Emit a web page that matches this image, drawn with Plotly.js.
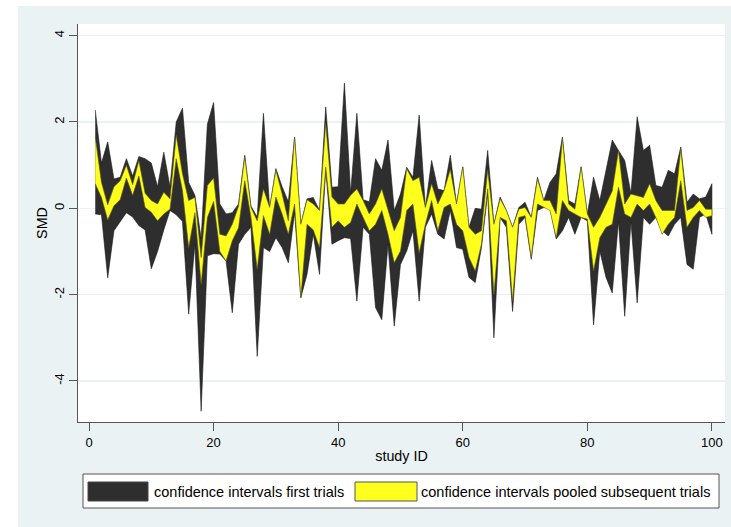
<!DOCTYPE html>
<html>
<head>
<meta charset="utf-8">
<script src="https://cdn.plot.ly/plotly-3.0.1.min.js"></script>
<style>html,body{margin:0;padding:0;background:#fff;}#chart{width:731px;height:527px;}</style>
</head>
<body>
<div id="chart"></div>
<script>
// study IDs
var studyIds = [];
for (var i = 1; i <= 100; i++) studyIds.push(i);

// confidence intervals of first trials (SMD)
var firstUpper = [2.28,1.05,1.54,0.68,0.72,1.15,0.75,1.2,1.15,1.05,
  0.5,1.3,0.5,2.0,2.32,0.6,0.3,-0.7,1.95,2.45,
  0.1,-0.13,-0.1,0.1,1.23,0.05,-0.2,2.2,0.0,0.92,
  0.5,0.15,1.65,-0.37,0.22,0.25,-0.05,2.35,0.49,0.5,
  2.9,0.35,2.2,0.2,0.15,1.15,0.88,1.58,-0.05,0.33,
  0.95,0.72,2.16,0.02,1.11,0.45,0.41,1.23,0.1,0.96,
  -0.44,0.0,-0.02,1.34,-0.37,0.26,-0.05,-0.44,0.02,0.14,
  -0.21,0.72,0.18,0.6,0.8,1.65,0.18,0.1,0.96,-0.13,
  0.72,0.18,0.88,1.58,1.34,1.11,0.35,2.12,1.34,1.46,
  0.53,0.49,0.88,0.8,1.42,0.14,0.33,0.22,0.26,0.57];
var firstLower = [-0.13,-0.15,-1.61,-0.52,-0.3,-0.1,-0.2,-0.4,-0.5,-1.4,
  -1.0,-0.5,-0.05,-0.15,-0.3,-2.45,-0.83,-4.7,-1.1,-1.05,
  -1.06,-1.22,-2.42,-0.83,-0.6,-0.44,-3.43,-0.91,-1.0,-0.68,
  -0.91,-1.26,-0.1,-2.07,-1.53,-0.6,-1.53,0.9,-0.83,-0.75,
  -0.68,-0.7,-2.15,-0.44,-0.6,-2.3,-2.58,-0.83,-2.73,-1.3,
  -0.99,-0.52,-2.15,-0.44,-0.13,-0.6,-0.71,-0.05,-0.91,-0.95,
  -1.6,-1.72,-0.91,0.35,-3.0,-0.21,-0.44,-2.39,-0.37,-0.21,
  -1.18,-0.05,0.02,0.02,-0.71,-0.52,-0.21,-0.6,-0.21,-0.29,
  -2.7,-0.99,-1.6,-1.96,-0.3,-2.5,-0.3,-2.19,-0.21,-0.37,
  -0.21,-0.52,-0.64,-0.37,-0.21,-1.3,-1.41,-0.21,-0.13,-0.6];

// confidence intervals of pooled subsequent trials (SMD)
var pooledUpper = [1.65,0.6,0.08,0.5,0.64,1.0,0.55,1.1,0.35,0.18,
  0.1,0.37,0.22,1.69,0.8,0.18,0.25,-1.14,0.53,0.7,
  -0.6,-0.64,-0.37,0.05,1.19,0.02,-0.29,0.45,0.02,0.88,
  0.33,-0.29,1.65,-0.37,0.2,0.1,-0.05,1.97,0.26,0.1,
  0.1,0.3,0.45,0.18,-0.13,0.1,0.45,-0.05,-0.52,-0.21,
  0.92,0.64,0.72,0.02,0.57,0.1,0.41,0.9,0.1,0.96,
  -0.44,-0.6,-0.52,0.88,-0.37,0.22,-0.05,-0.44,-0.02,0.02,
  -0.21,0.68,0.18,0.18,-0.13,1.62,0.1,-0.02,0.96,-0.13,
  -0.44,-0.21,0.1,0.4,1.34,0.1,0.33,0.29,0.25,0.57,
  0.18,-0.05,-0.05,-0.05,1.38,-0.05,0.02,0.18,-0.02,-0.02];
var pooledLower = [0.57,0.25,-0.27,0.06,0.2,0.7,0.3,0.75,0.02,-0.09,
  -0.29,-0.13,-0.02,1.15,0.41,-0.91,-0.1,-1.76,-0.21,0.16,
  -1.0,-1.22,-0.75,-0.45,0.64,-0.21,-1.41,-0.17,-0.6,0.26,
  -0.13,-0.6,0.1,-2.07,-0.37,-0.5,-0.91,0.96,-0.44,-0.29,
  -0.44,-0.33,0.1,-0.21,-0.52,-0.37,-0.05,-0.6,-1.26,-0.99,
  -0.05,0.1,-1.03,-0.37,0.18,-0.52,0.02,0.1,-0.37,-0.52,
  -1.14,-1.45,-0.83,0.45,-2.0,-0.21,-0.29,-2.15,-0.21,-0.17,
  -1.14,0.1,0.02,-0.05,-0.68,0.18,-0.05,-0.13,-0.21,-0.25,
  -1.45,-0.68,-0.44,-0.37,0.49,-0.13,-0.21,0.1,-0.05,0.1,
  -0.21,-0.6,-0.37,-0.21,0.64,-0.44,-0.21,-0.05,-0.21,-0.17];

var xTicks = [0,20,40,60,80,100];
var yTicks = [-4,-2,0,2,4];
var legendLabels = ['confidence intervals first trials','confidence intervals pooled subsequent trials'];

function band(upper, lower) {
  var xs = studyIds.concat(studyIds.slice().reverse());
  var ys = upper.concat(lower.slice().reverse());
  return {x: xs, y: ys};
}
var b1 = band(firstUpper, firstLower);
var b2 = band(pooledUpper, pooledLower);

var FONT = 'Liberation Sans, Arial, sans-serif';
var traces = [
  {x: b1.x, y: b1.y, type: 'scatter', mode: 'lines', fill: 'toself',
   fillcolor: '#2e2e2e', line: {color: '#1a1a1a', width: 0.6}, name: legendLabels[0], hoverinfo: 'skip', showlegend: false},
  {x: b2.x, y: b2.y, type: 'scatter', mode: 'lines', fill: 'toself',
   fillcolor: '#ffff1e', line: {color: '#5a5a20', width: 0.6}, name: legendLabels[1], hoverinfo: 'skip', showlegend: false}
];

// plot area in px: x 78..725, y 24..422
var L = 78, R = 725, T = 24, B = 422, W = R - L, H = B - T;
function px(x) { return (x - L) / W; }
function py(y) { return (B - y) / H; }

var shapes = [
  {type: 'rect', xref: 'paper', yref: 'paper', x0: px(-5), x1: px(18), y0: py(540), y1: py(-5), fillcolor: '#ffffff', line: {width: 0}, layer: 'below'},
  {type: 'rect', xref: 'paper', yref: 'paper', x0: px(-5), x1: px(740), y0: py(6), y1: py(-5), fillcolor: '#ffffff', line: {width: 0}, layer: 'below'},
  // legend box
  {type: 'rect', xref: 'paper', yref: 'paper', x0: px(83), x1: px(719), y0: py(508), y1: py(474), fillcolor: '#ffffff', line: {color: '#555555', width: 1}},
  {type: 'rect', xref: 'paper', yref: 'paper', x0: px(88), x1: px(148), y0: py(501), y1: py(482), fillcolor: '#2e2e2e', line: {color: '#444444', width: 1}},
  {type: 'rect', xref: 'paper', yref: 'paper', x0: px(355), x1: px(417), y0: py(501), y1: py(482), fillcolor: '#ffff1e', line: {color: '#555555', width: 1}}
];
var annotations = [
  {xref: 'paper', yref: 'paper', x: px(152), y: py(491.5), xanchor: 'left', yanchor: 'middle', text: legendLabels[0], showarrow: false, font: {family: FONT, size: 14.5, color: '#000'}},
  {xref: 'paper', yref: 'paper', x: px(419), y: py(491.5), xanchor: 'left', yanchor: 'middle', text: legendLabels[1], showarrow: false, font: {family: FONT, size: 14.5, color: '#000'}}
];

var layout = {
  width: 731, height: 527,
  margin: {l: L, r: 731 - R, t: T, b: 527 - B, pad: 0},
  paper_bgcolor: '#eaf2f3',
  plot_bgcolor: '#ffffff',
  showlegend: false,
  font: {family: FONT, size: 13, color: '#000'},
  xaxis: {
    range: [-1.77, 102.1], tickvals: xTicks, ticktext: xTicks.map(String),
    showgrid: false, zeroline: false, showline: true, linecolor: '#555555', linewidth: 1,
    ticks: 'outside', ticklen: 8, tickcolor: '#555555', tickwidth: 1,
    tickfont: {family: FONT, size: 13, color: '#000'},
    title: {text: 'study ID', font: {family: FONT, size: 14.3, color: '#000'}, standoff: 2}
  },
  yaxis: {
    range: [-4.95, 4.27], tickvals: yTicks, ticktext: yTicks.map(String), tickangle: -90,
    showgrid: true, gridcolor: '#eaf2f3', gridwidth: 1.5, zeroline: false,
    showline: true, linecolor: '#555555', linewidth: 1,
    ticks: 'outside', ticklen: 8, tickcolor: '#555555', tickwidth: 1,
    tickfont: {family: FONT, size: 13, color: '#000'},
    title: {text: 'SMD', font: {family: FONT, size: 14.3, color: '#000'}, standoff: 0}
  },
  shapes: shapes,
  annotations: annotations
};

Plotly.newPlot('chart', traces, layout, {displayModeBar: false, staticPlot: true});
</script>
</body>
</html>
